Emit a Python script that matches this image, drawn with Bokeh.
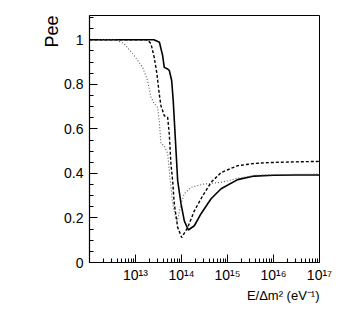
from bokeh.plotting import figure
from bokeh.models import Range1d, FixedTicker, Title
from bokeh.embed import file_html
from bokeh.resources import INLINE

# ---- data (log10 of E/dm^2, Pee) ----
solid_logx = [12.0, 13.40, 13.52, 13.59, 13.625, 13.70, 13.735, 13.786, 13.82, 13.917, 13.989,
              14.061, 14.148, 14.279, 14.425, 14.643, 14.861, 15.22, 15.58, 16.0, 16.5, 17.0]
solid_y = [1.0, 1.0, 0.989, 0.929, 0.876, 0.869, 0.862, 0.817, 0.727, 0.367, 0.264,
           0.187, 0.146, 0.165, 0.219, 0.286, 0.331, 0.372, 0.388, 0.392, 0.393, 0.393]

dashed_logx = [12.0, 13.264, 13.336, 13.407, 13.466, 13.516, 13.553, 13.59, 13.625, 13.699, 13.734,
               13.771, 13.808, 13.843, 13.917, 14.004, 14.135, 14.279, 14.462, 14.643, 14.861,
               15.224, 15.6, 15.95, 16.5, 17.0]
dashed_y = [1.0, 1.0, 0.982, 0.921, 0.847, 0.757, 0.704, 0.682, 0.659, 0.652, 0.578,
            0.44, 0.367, 0.264, 0.157, 0.112, 0.157, 0.232, 0.300, 0.360, 0.404,
            0.435, 0.445, 0.449, 0.452, 0.454]

dotted_logx = [12.0, 12.573, 12.754, 12.972, 13.155, 13.264, 13.336, 13.407, 13.481, 13.516, 13.553,
               13.625, 13.699, 13.734, 13.808, 13.88, 13.913, 13.989, 14.061, 14.207, 14.49,
               14.861, 15.22, 15.58, 16.2, 17.0]
dotted_y = [1.0, 1.0, 0.982, 0.929, 0.876, 0.817, 0.742, 0.713, 0.697, 0.637, 0.533,
            0.524, 0.489, 0.412, 0.264, 0.196, 0.187, 0.264, 0.309, 0.337, 0.352,
            0.360, 0.378, 0.391, 0.395, 0.397]

x_major = [1e13, 1e14, 1e15, 1e16, 1e17]
x_labels = ["10¹³", "10¹⁴", "10¹⁵", "10¹⁶", "10¹⁷"]
y_major = [0.0, 0.2, 0.4, 0.6, 0.8, 1.0]
y_labels = ["0", "0.2", "0.4", "0.6", "0.8", "1"]

FONT = "Liberation Sans"

p = figure(width=338, height=311, x_axis_type="log",
           x_range=Range1d(1e12, 1e17), y_range=Range1d(0, 1.109),
           output_backend="svg", toolbar_location=None,
           min_border_left=89, min_border_right=19, min_border_top=15, min_border_bottom=49)
p.grid.visible = False
p.outline_line_color = "black"
p.outline_line_width = 1
p.background_fill_color = "white"
p.border_fill_color = "white"

p.line([10.0 ** v for v in solid_logx], solid_y, line_color="black", line_width=1.6)
p.line([10.0 ** v for v in dashed_logx], dashed_y, line_color="black", line_width=1.4, line_dash="3 2")
p.line([10.0 ** v for v in dotted_logx], dotted_y, line_color="#555555", line_width=1.1, line_dash="1 2")

# x axis
minor_x = [float(m) * 10.0 ** e for e in range(12, 17) for m in range(2, 10)]
p.xaxis.ticker = FixedTicker(ticks=x_major, minor_ticks=minor_x)
p.xaxis.major_label_overrides = {v: s for v, s in zip(x_major, x_labels)}
p.xaxis.major_tick_in = 8
p.xaxis.major_tick_out = 0
p.xaxis.minor_tick_in = 4
p.xaxis.minor_tick_out = 0
p.xaxis.major_label_text_font = FONT
p.xaxis.major_label_text_font_size = "14px"
p.xaxis.major_label_text_color = "black"
p.xaxis.major_label_standoff = 4
p.xaxis.axis_line_color = "black"
p.xaxis.axis_line_width = 1.2

# y axis
minor_y = [round(0.05 * i, 2) for i in range(1, 23) if i % 4 != 0]
p.yaxis.ticker = FixedTicker(ticks=y_major, minor_ticks=minor_y)
p.yaxis.major_label_overrides = {v: s for v, s in zip(y_major, y_labels)}
p.yaxis.major_tick_in = 8
p.yaxis.major_tick_out = 0
p.yaxis.minor_tick_in = 4
p.yaxis.minor_tick_out = 0
p.yaxis.major_label_text_font = FONT
p.yaxis.major_label_text_font_size = "14px"
p.yaxis.major_label_text_color = "black"
p.yaxis.major_label_standoff = 6
p.yaxis.axis_line_color = "black"
p.yaxis.axis_line_width = 1.2

# axis titles as side titles
p.add_layout(Title(text="E/Δm² (eV⁻¹)", align="right", text_font=FONT,
                   text_font_size="13px", text_font_style="normal", text_color="black",
                   standoff=0, offset=0), "below")
p.add_layout(Title(text="Pee", align="right", text_font=FONT,
                   text_font_size="18px", text_font_style="normal", text_color="black",
                   standoff=0, offset=0), "left")

open("out.html", "w").write(file_html(p, INLINE))
